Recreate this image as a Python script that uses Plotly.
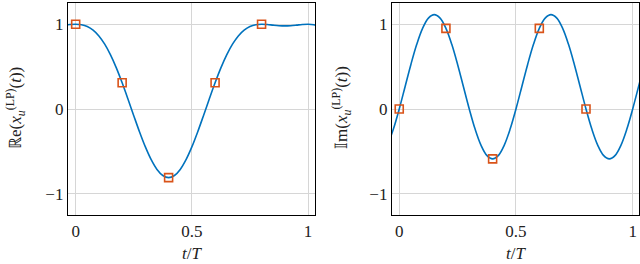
import plotly.graph_objects as go

# Curve samples (t/T)
t_curve = [-0.05, -0.025, 0.0, 0.025, 0.05, 0.075, 0.1, 0.125, 0.15, 0.175, 0.2,
           0.225, 0.25, 0.275, 0.3, 0.325, 0.35, 0.375, 0.4, 0.425, 0.45, 0.475,
           0.5, 0.525, 0.55, 0.575, 0.6, 0.625, 0.65, 0.675, 0.7, 0.725, 0.75,
           0.775, 0.8, 0.825, 0.85, 0.875, 0.9, 0.925, 0.95, 0.975, 1.0, 1.025, 1.05]
re_curve = [0.9888, 0.9963, 1.0, 0.9943, 0.9729, 0.9303, 0.8618, 0.7646, 0.6382, 0.4848, 0.3090,
            0.1182, -0.0785, -0.2707, -0.4472, -0.5976, -0.7125, -0.7845, -0.8090, -0.7845, -0.7125, -0.5976,
            -0.4472, -0.2707, -0.0785, 0.1182, 0.3090, 0.4848, 0.6382, 0.7646, 0.8618, 0.9303, 0.9729,
            0.9943, 1.0, 0.9963, 0.9888, 0.9824, 0.9798, 0.9824, 0.9888, 0.9963, 1.0, 0.9943, 0.9729]
im_curve = [-0.4253, -0.2371, 0.0, 0.2629, 0.5257, 0.7629, 0.9511, 1.0719, 1.1135, 1.0719, 0.9511,
            0.7629, 0.5257, 0.2629, 0.0, -0.2371, -0.4253, -0.5462, -0.5878, -0.5462, -0.4253, -0.2371,
            0.0, 0.2629, 0.5257, 0.7629, 0.9511, 1.0719, 1.1135, 1.0719, 0.9511, 0.7629, 0.5257,
            0.2629, 0.0, -0.2371, -0.4253, -0.5462, -0.5878, -0.5462, -0.4253, -0.2371, 0.0, 0.2629, 0.5257]

# Sample points (markers)
t_samples = [0.0, 0.2, 0.4, 0.6, 0.8]
re_samples = [1.0, 0.309, -0.809, 0.309, 1.0]
im_samples = [0.0, 0.951, -0.588, 0.951, 0.0]

x_ticks = [0, 0.5, 1]
x_ticklabels = ["0", "0.5", "1"]
y_ticks = [-1, 0, 1]
y_ticklabels = ["\u22121", "0", "1"]

BLUE = "#0072BD"
ORANGE = "#D95319"
FONT = "Liberation Serif"
W, H = 640, 264

fig = go.Figure()
for xa, ya, yc, ys in [("x", "y", re_curve, re_samples), ("x2", "y2", im_curve, im_samples)]:
    fig.add_trace(go.Scatter(x=t_curve, y=yc, mode="lines", xaxis=xa, yaxis=ya,
                             line=dict(color=BLUE, width=1.6, shape="spline"),
                             showlegend=False, hoverinfo="skip"))
    fig.add_trace(go.Scatter(x=t_samples, y=ys, mode="markers", xaxis=xa, yaxis=ya,
                             marker=dict(symbol="square-open", size=8, color=ORANGE,
                                         line=dict(color=ORANGE, width=1.6)),
                             showlegend=False))

axis_common = dict(showgrid=True, gridcolor="#d6d6d6", gridwidth=1, zeroline=False,
                   showline=True, linecolor="black", linewidth=1.3, mirror=True,
                   ticks="", tickfont=dict(family=FONT, size=17, color="#222"))

fig.update_layout(
    width=W, height=H, margin=dict(l=0, r=0, t=0, b=0),
    paper_bgcolor="white", plot_bgcolor="white",
    xaxis=dict(domain=[68/W, 315/W], range=[-0.033, 1.030], anchor="y",
               tickvals=x_ticks, ticktext=x_ticklabels, **axis_common),
    yaxis=dict(domain=[1-215/H, 1-3/H], range=[-1.25, 1.25], anchor="x",
               tickvals=y_ticks, ticktext=y_ticklabels, **axis_common),
    xaxis2=dict(domain=[392/W, 639/W], range=[-0.031, 1.027], anchor="y2",
                tickvals=x_ticks, ticktext=x_ticklabels, **axis_common),
    yaxis2=dict(domain=[1-215/H, 1-3/H], range=[-1.25, 1.25], anchor="x2",
                tickvals=y_ticks, ticktext=y_ticklabels, **axis_common),
)

tf = dict(family=FONT, size=17, color="#222")
fig.add_annotation(text="<i>t</i>/<i>T</i>", x=191.5/W, y=1-253/H, xref="paper", yref="paper",
                   showarrow=False, font=tf, xanchor="center", yanchor="middle")
fig.add_annotation(text="<i>t</i>/<i>T</i>", x=515.5/W, y=1-253/H, xref="paper", yref="paper",
                   showarrow=False, font=tf, xanchor="center", yanchor="middle")
fig.add_annotation(text="\u211de(<i>x</i><sub><i>u</i></sub><sup>(LP)</sup>(<i>t</i>))",
                   x=15/W, y=1-108/H, xref="paper", yref="paper", textangle=-90,
                   showarrow=False, font=tf, xanchor="center", yanchor="middle")
fig.add_annotation(text="\U0001D540m(<i>x</i><sub><i>u</i></sub><sup>(LP)</sup>(<i>t</i>))",
                   x=341/W, y=1-108/H, xref="paper", yref="paper", textangle=-90,
                   showarrow=False, font=tf, xanchor="center", yanchor="middle")

fig.write_html("out.html", config={"displayModeBar": False},
               post_script="document.body.style.margin='0';document.body.style.overflow='hidden';")
